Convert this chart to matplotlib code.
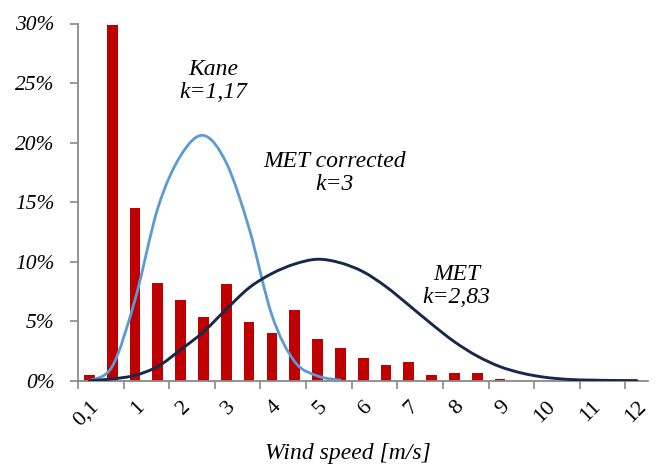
import matplotlib
matplotlib.use("Agg")
import matplotlib.pyplot as plt
from matplotlib.path import Path
from matplotlib.patches import PathPatch
import numpy as np

# ---- data ----
speeds = ["0,1", "0,5", "1", "1,5", "2", "2,5", "3", "3,5", "4", "4,5", "5", "5,5",
          "6", "6,5", "7", "7,5", "8", "8,5", "9", "9,5", "10", "10,5", "11", "11,5", "12"]
tick_labels = ["0,1", "1", "2", "3", "4", "5", "6", "7", "8", "9", "10", "11", "12"]
measured = [0.5, 29.9, 14.5, 8.2, 6.8, 5.35, 8.1, 4.9, 4.0, 5.9, 3.53, 2.77,
            1.88, 1.32, 1.6, 0.48, 0.62, 0.62, 0.14, 0, 0, 0, 0, 0, 0]
kane = [0.0, 1.2, 6.8, 14.5, 18.9, 20.6, 18.3, 12.8, 5.5, 1.6, 0.4, 0.05]
met = [0.0, 0.15, 0.45, 1.2, 2.6, 4.1, 6.0, 7.8, 9.0, 9.8, 10.2, 9.9,
       9.15, 7.9, 6.35, 4.76, 3.27, 2.07, 1.18, 0.62, 0.28, 0.11, 0.05, 0.02, 0.01]

plt.rcParams['font.family'] = ['Liberation Serif', 'DejaVu Serif']

fig = plt.figure(figsize=(6.56, 4.68), dpi=100)
ax = fig.add_axes([78/656, 1-380.7/468, (648.3-78)/656, (380.7-23.5)/468])

x = np.arange(len(speeds))
ax.bar(x, measured, width=0.47, color='#C00000', zorder=2)


def smooth_path(xs, ys):
    pts = list(zip(xs, ys))
    verts = [pts[0]]
    codes = [Path.MOVETO]
    n = len(pts)
    for i in range(n - 1):
        p0 = pts[i - 1] if i > 0 else pts[i]
        p1 = pts[i]
        p2 = pts[i + 1]
        p3 = pts[i + 2] if i + 2 < n else pts[i + 1]
        c1 = (p1[0] + (p2[0] - p0[0]) / 6, p1[1] + (p2[1] - p0[1]) / 6)
        c2 = (p2[0] - (p3[0] - p1[0]) / 6, p2[1] - (p3[1] - p1[1]) / 6)
        verts += [c1, c2, p2]
        codes += [Path.CURVE4] * 3
    return Path(verts, codes)


for vals, col, lw in [(kane, '#5B9BD5', 2.0), (met, '#17294A', 2.1)]:
    xs = np.arange(len(vals))
    patch = PathPatch(smooth_path(xs, vals), facecolor='none', edgecolor=col,
                      lw=lw, transform=ax.transData, zorder=3, capstyle='round')
    ax.add_patch(patch)

ax.set_xlim(-0.5, len(speeds) - 0.5)
ax.set_ylim(0, 30)

# y axis
ax.set_yticks(np.arange(0, 31, 5))
ax.set_yticklabels([f"{v}%" for v in range(0, 31, 5)], fontstyle='italic', fontsize=15.5)
ax.tick_params(axis='y', length=6, width=1.2, color='#898989', pad=11)

# x axis: tick marks at every second category boundary, labels at every second category
ax.set_xticks(np.arange(-0.5, len(speeds) - 1, 2))
ax.set_xticklabels([])
ax.set_xticks(np.arange(0, len(speeds), 2), minor=True)
ax.set_xticklabels(tick_labels, minor=True, rotation=45, ha='right', va='top',
                   rotation_mode='anchor', fontsize=16)
ax.tick_params(axis='x', which='major', length=6, width=1.2, color='#898989')
ax.tick_params(axis='x', which='minor', length=0, pad=12)

for s in ['top', 'right']:
    ax.spines[s].set_visible(False)
for s in ['left', 'bottom']:
    ax.spines[s].set_color('#898989')
    ax.spines[s].set_linewidth(1.3)

ax.text(5.41, 25.17, "Kane\nk=1,17", ha='center', va='center', fontsize=17,
        fontstyle='italic', linespacing=1.15)
ax.text(10.76, 17.44, "MET corrected\nk=3", ha='center', va='center', fontsize=17,
        fontstyle='italic', linespacing=1.15)
ax.text(16.1, 7.95, "MET\nk=2,83", ha='center', va='center', fontsize=17,
        fontstyle='italic', linespacing=1.15)

fig.text(348/656, 1-453/468, "Wind speed [m/s]", ha='center', va='center',
         fontsize=17, fontstyle='italic')

fig.savefig("out.png", dpi=100)
